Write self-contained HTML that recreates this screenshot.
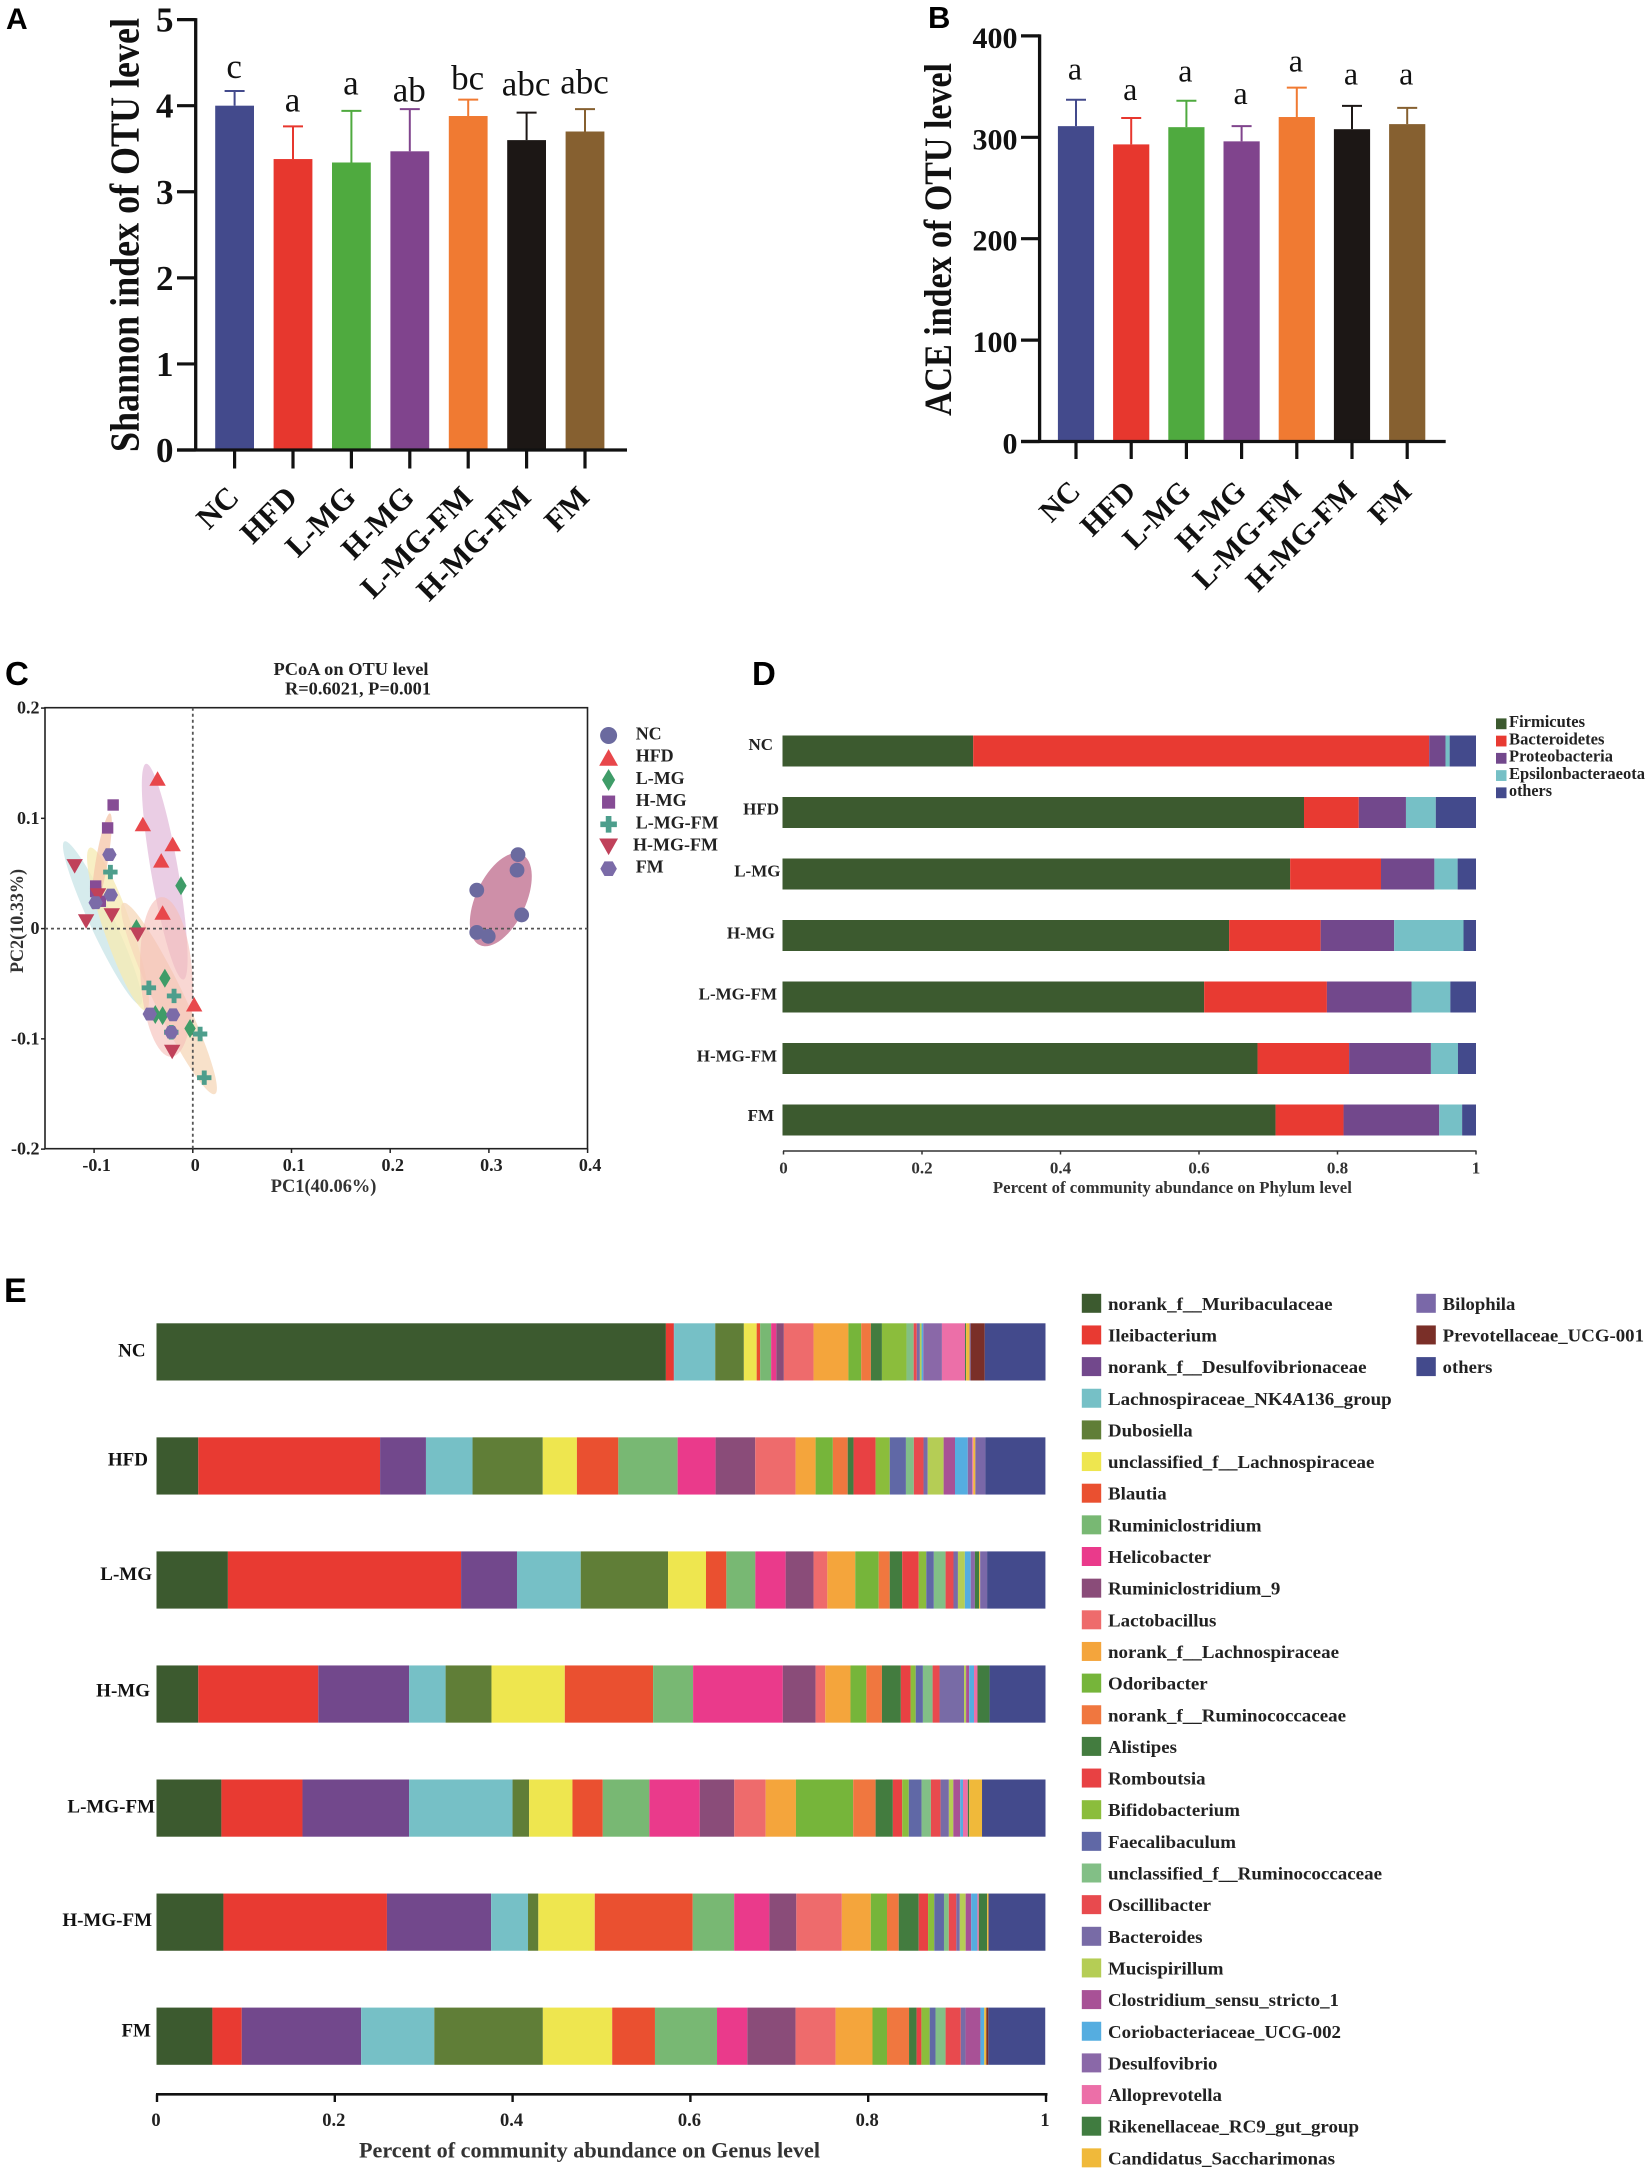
<!DOCTYPE html>
<html lang="en">
<head>
<meta charset="utf-8">
<title>Gut microbiota diversity and community composition figure</title>
<style>
html,body{margin:0;padding:0;background:#fff;}
svg{display:block;font-family:"Liberation Serif",serif;}
.lab{font-family:"Liberation Sans",sans-serif;font-weight:bold;fill:#000;}
</style>
</head>
<body>
<svg id="fig" xmlns="http://www.w3.org/2000/svg" width="1650" height="2172" viewBox="0 0 1650 2172">
<rect width="1650" height="2172" fill="#fff"/>
<text class="lab" x="6" y="29" font-size="30">A</text>
<text class="lab" x="928" y="28" font-size="31">B</text>
<text class="lab" x="5" y="685" font-size="33">C</text>
<text class="lab" x="752" y="685" font-size="33">D</text>
<text class="lab" x="4" y="1302" font-size="34">E</text>
<g id="panelA"></g>
<g id="panelB"></g>
<g id="panelC"></g>
<g id="panelD"></g>
<g id="panelE"></g>
</svg>
<script>
// ---------- shared categories ----------
const groups = ['NC','HFD','L-MG','H-MG','L-MG-FM','H-MG-FM','FM'];
const groupColors = ['#434a8c','#e7372e','#4faa3f','#80448d','#f07a32','#1c1715','#866030'];

// ---------- panel A ----------
const shannonTicks = [0,1,2,3,4,5];
const shannonMeans = [4.00,3.38,3.34,3.47,3.88,3.60,3.70];
const shannonErrTops = [4.17,3.76,3.94,3.96,4.07,3.92,3.96];
const shannonLetters = ['c','a','a','ab','bc','abc','abc'];
const shannonLetterLevels = [4.32,3.93,4.13,4.05,4.19,4.12,4.14];

// ---------- panel B ----------
const aceTicks = [0,100,200,300,400];
const aceMeans = [311,293,310,296,320,308,313];
const aceErrTops = [337,319,336,311,349,331,329];
const aceLetters = ['a','a','a','a','a','a','a'];
const aceLetterLevels = [357,337,355,333,365,352,352];

// ---------- panel C ----------
const pcoaXTicks = [-0.1,0,0.1,0.2,0.3,0.4];
const pcoaYTicks = [0.2,0.1,0,-0.1,-0.2];
const pcoaXLabels = ['-0.1','0','0.1','0.2','0.3','0.4'];
const pcoaYLabels = ['0.2','0.1','0','-0.1','-0.2'];
const pcoaNCx = [0.3295,0.3285,0.2877,0.3332,0.2877,0.2993];
const pcoaNCy = [0.0671,0.0530,0.0349,0.0124,-0.0034,-0.0070];
const pcoaHFDx = [-0.0357,-0.0506,-0.0204,-0.0320,-0.0306,0.0014];
const pcoaHFDy = [0.1359,0.0946,0.0765,0.0617,0.0144,-0.0688];
const pcoaLMGx = [-0.0120,-0.0571,-0.0283,-0.0380,-0.0306,-0.0028];
const pcoaLMGy = [0.0389,0.0000,-0.0450,-0.0779,-0.0789,-0.0906];
const pcoaHMGx = [-0.0807,-0.0863,-0.0984,-0.0984,-0.0937];
const pcoaHMGy = [0.1121,0.0913,0.0386,0.0336,0.0248];
const pcoaLFx = [-0.0835,-0.0445,-0.0190,0.0074,0.0116,-0.0218];
const pcoaLFy = [0.0513,-0.0537,-0.0611,-0.0956,-0.1352,-0.0940];
const pcoaHFx = [-0.1197,-0.1081,-0.0821,-0.0557,-0.0209,-0.0960];
const pcoaHFy = [0.0567,0.0067,0.0121,-0.0054,-0.1117,0.0302];
const pcoaFMx = [-0.0845,-0.0831,-0.0984,-0.0436,-0.0200,-0.0218];
const pcoaFMy = [0.0671,0.0305,0.0235,-0.0775,-0.0782,-0.0940];

// ---------- panel D ----------
const phylumNames = ['Firmicutes','Bacteroidetes','Proteobacteria','Epsilonbacteraeota','others'];
const phylumColors = ['#3c5a2f','#e83a32','#72488c','#76c0c6','#434a8c'];
const phylumNC = [0.275,0.6575,0.0235,0.006,0.038];
const phylumHFD = [0.752,0.079,0.068,0.043,0.058];
const phylumLMG = [0.732,0.131,0.077,0.0335,0.0265];
const phylumHMG = [0.644,0.132,0.106,0.100,0.018];
const phylumLF = [0.608,0.177,0.122,0.056,0.037];
const phylumHF = [0.685,0.132,0.118,0.039,0.026];
const phylumFM = [0.711,0.098,0.138,0.033,0.020];
const phylumRows = [phylumNC,phylumHFD,phylumLMG,phylumHMG,phylumLF,phylumHF,phylumFM];
const abundanceTicks = [0,0.2,0.4,0.6,0.8,1];
const abundanceLabels = ['0','0.2','0.4','0.6','0.8','1'];

// ---------- panel E ----------
const genusNames = ['norank_f__Muribaculaceae','Ileibacterium','norank_f__Desulfovibrionaceae','Lachnospiraceae_NK4A136_group','Dubosiella','unclassified_f__Lachnospiraceae','Blautia','Ruminiclostridium','Helicobacter','Ruminiclostridium_9','Lactobacillus','norank_f__Lachnospiraceae','Odoribacter','norank_f__Ruminococcaceae','Alistipes','Romboutsia','Bifidobacterium','Faecalibaculum','unclassified_f__Ruminococcaceae','Oscillibacter','Bacteroides','Mucispirillum','Clostridium_sensu_stricto_1','Coriobacteriaceae_UCG-002','Desulfovibrio','Alloprevotella','Rikenellaceae_RC9_gut_group','Candidatus_Saccharimonas','Bilophila','Prevotellaceae_UCG-001','others'];
const genusColors = ['#3c5a2f','#e83a32','#72488c','#76c0c6','#607e37','#eee64f','#ea5030','#78b873','#ea3a8b','#8a4c79','#ee6b6c','#f4a53c','#76b53a','#f0773f','#437c3f','#e84143','#8bbd3c','#6068a6','#82bf86','#e84a4e','#786ba6','#b5cd55','#a85196','#55ade0','#8a68a8','#ec6fa8','#407c40','#f0b93a','#7a68a8','#7a2f28','#434a8c'];
const genusNC = [.5730,.0089,.0004,.0462,.0322,.0144,.0039,.0124,.0058,.0085,.0334,.0392,.0144,.0109,.0124,0,.0276,0,.0081,.0035,.0035,.0019,0,.0019,.0210,.0260,.0012,.0039,.0012,.0159,.0683];
const genusHFD = [.0470,.2045,.0516,.0524,.0790,.0384,.0466,.0667,.0427,.0446,.0454,.0225,.0194,.0167,.0066,.0248,.0159,.0182,.0089,.0109,.0047,.0179,.0128,.0144,.0050,.0012,0,.0023,.0113,0,.0675];
const genusLMG = [.0803,.2623,.0629,.0717,.0982,.0427,.0229,.0326,.0341,.0314,.0155,.0314,.0264,.0124,.0140,.0186,.0085,.0085,.0132,.0089,.0050,.0078,0,.0066,.0047,0,.0047,.0012,.0078,0,.0656];
const genusHMG = [.0470,.1350,.1021,.0411,.0516,.0825,.0993,.0450,.1009,.0369,.0109,.0283,.0179,.0175,.0213,.0109,.0058,.0081,.0109,.0078,.0276,.0023,.0035,.0054,0,.0039,.0136,0,0,0,.0629];
const genusLF = [.0730,.0912,.1199,.1164,.0186,.0488,.0341,.0524,.0567,.0388,.0353,.0341,.0644,.0252,.0194,.0105,.0074,.0144,.0105,.0109,.0093,.0050,.0078,.0031,0,.0054,.0016,.0144,0,0,.0714];
const genusHF = [.0753,.1839,.1172,.0415,.0116,.0635,.1102,.0466,.0396,.0303,.0512,.0326,.0182,.0132,.0225,.0105,.0070,.0109,.0054,.0085,.0039,.0066,.0062,.0070,0,.0016,.0093,.0016,0,0,.0640];
const genusFM = [.0629,.0330,.1343,.0823,.1221,.0780,.0481,.0698,.0341,.0543,.0450,.0415,.0163,.0248,.0085,.0054,.0093,.0066,.0113,.0171,.0054,0,.0167,.0043,0,0,0,.0023,0,.0023,.0640];
const genusRows = [genusNC,genusHFD,genusLMG,genusHMG,genusLF,genusHF,genusFM];

// ---------- helpers ----------
const NS = 'http://www.w3.org/2000/svg';
function mk(parent, tag, attrs, text) {
  const el = document.createElementNS(NS, tag);
  for (const k in attrs) el.setAttribute(k, attrs[k]);
  if (text !== undefined) el.textContent = text;
  parent.appendChild(el);
  return el;
}
const BOLD = 'bold';

// ---------- bar panels A / B ----------
function drawBars(root, cfg) {
  const y = v => cfg.y0 + (cfg.yTop - cfg.y0) * v / cfg.max;
  const x = i => cfg.x0 + cfg.step * i;
  cfg.means.forEach((m, i) => {
    const bar = mk(root, 'rect', {x: x(i) - cfg.barW / 2, y: y(m), width: cfg.barW, height: cfg.y0 - y(m), fill: groupColors[i]});
    
    
    const stem = mk(root, 'line', {x1: x(i), x2: x(i), y1: y(m), y2: y(cfg.errs[i]), stroke: groupColors[i], 'stroke-width': 2});
    
    
    const cap = mk(root, 'line', {x1: x(i) - 10, x2: x(i) + 10, y1: y(cfg.errs[i]), y2: y(cfg.errs[i]), stroke: groupColors[i], 'stroke-width': 2});
    
    
    const letter = mk(root, 'text', {x: x(i) + cfg.letterDx, y: y(cfg.letterLevels[i]), 'font-size': cfg.letterSize, 'text-anchor': 'middle', fill: '#111'}, cfg.letters[i]);
    
    
    const tick = mk(root, 'line', {x1: x(i), x2: x(i), y1: cfg.y0, y2: cfg.y0 + cfg.tickLen, stroke: '#111', 'stroke-width': 3.2});
    
    
    const lx = x(i) + cfg.catDx, ly = cfg.catY;
    const cat = mk(root, 'text', {x: lx, y: ly, 'font-size': cfg.catSize, 'font-weight': BOLD, 'text-anchor': 'end', fill: '#111', transform: 'rotate(-45 ' + lx + ' ' + ly + ')'}, groups[i]);
    
    
  });
  const yAxis = mk(root, 'line', {x1: cfg.axisX, x2: cfg.axisX, y1: cfg.yTop - 1.5, y2: cfg.y0 + 1.5, stroke: '#111', 'stroke-width': 3.3});
  
  
  const xAxis = mk(root, 'line', {x1: cfg.tickX, x2: cfg.axisEnd, y1: cfg.y0, y2: cfg.y0, stroke: '#111', 'stroke-width': 3.3});
  
  
  cfg.ticks.forEach(t => {
    const tl = mk(root, 'line', {x1: cfg.tickX, x2: cfg.axisX, y1: y(t), y2: y(t), stroke: '#111', 'stroke-width': 3.2});
    
    
    const lb = mk(root, 'text', {x: cfg.tickX - 3.5, y: y(t) + cfg.tickDy, 'font-size': cfg.tickSize, 'font-weight': BOLD, 'text-anchor': 'end', fill: '#111'}, String(t));
    
    
  });
  const tx = cfg.titleX, ty = cfg.titleY;
  const title = mk(root, 'text', {x: tx, y: ty, 'font-size': cfg.titleSize, 'font-weight': BOLD, 'text-anchor': 'middle', fill: '#111', textLength: cfg.titleLen, lengthAdjust: 'spacingAndGlyphs', transform: 'rotate(-90 ' + tx + ' ' + ty + ')'}, cfg.title);
  
  
}
drawBars(document.getElementById('panelA'), {
  means: shannonMeans, errs: shannonErrTops, letters: shannonLetters, letterLevels: shannonLetterLevels, ticks: shannonTicks,
  max: 5, y0: 450, yTop: 19.6, x0: 234.6, step: 58.4, barW: 38.8, axisX: 195.7, tickX: 177, axisEnd: 627, tickLen: 18.5,
  letterSize: 35, letterDx: -0.5, tickSize: 35, tickDy: 12, catSize: 31, catDx: 6, catY: 499,
  title: 'Shannon index of OTU level', titleX: 138.5, titleY: 235, titleLen: 434, titleSize: 41
});
drawBars(document.getElementById('panelB'), {
  means: aceMeans, errs: aceErrTops, letters: aceLetters, letterLevels: aceLetterLevels, ticks: aceTicks,
  max: 400, y0: 441.5, yTop: 35.9, x0: 1076, step: 55.2, barW: 36.2, axisX: 1039.6, tickX: 1021, axisEnd: 1445.7, tickLen: 17.5,
  letterSize: 32, letterDx: -1, tickSize: 30, tickDy: 12, catSize: 30, catDx: 6, catY: 493,
  title: 'ACE index of OTU level', titleX: 951, titleY: 239.5, titleLen: 353, titleSize: 39
});

// ---------- panel C ----------
(function () {
  const root = document.getElementById('panelC');
  const px = v => 192.8 + 987 * v;
  const py = v => 928.6 - 1102.6 * v;
  const ellipses = [
    {cx: 102.5, cy: 923, a: 90, b: 12, ang: 25, fill: '#cbe6e8'},
    {cx: 118, cy: 929, a: 86, b: 14, ang: 19, fill: '#f6eab4'},
    {cx: 101.7, cy: 861.7, a: 49, b: 6, ang: -9.7, fill: '#f5c8ac'},
    {cx: 164.7, cy: 871.7, a: 109.5, b: 13.5, ang: 9.8, fill: '#e4bfdc'},
    {cx: 169, cy: 998.5, a: 106, b: 15, ang: 25.7, fill: '#f6d9bb'},
    {cx: 166.5, cy: 977, a: 80, b: 26, ang: 3.6, fill: '#f6bfb8'},
    {cx: 500.8, cy: 899.7, a: 50, b: 25, ang: -25, fill: '#c0708f'}
  ];
  ellipses.forEach((e, i) => {
    const el = mk(root, 'ellipse', {cx: e.cx, cy: e.cy, rx: e.b, ry: e.a, fill: e.fill, 'fill-opacity': i === 5 ? 0.62 : 0.78, transform: 'rotate(' + (-e.ang) + ' ' + e.cx + ' ' + e.cy + ')'});
    
    
  });
  const frame = mk(root, 'rect', {x: 45, y: 707.7, width: 542.5, height: 441, fill: 'none', stroke: '#222', 'stroke-width': 1.6});
  
  
  const h0 = mk(root, 'line', {x1: 45, x2: 587.5, y1: py(0), y2: py(0), stroke: '#555', 'stroke-width': 1.8, 'stroke-dasharray': '3 3'});
  
  
  const v0 = mk(root, 'line', {x1: px(0), x2: px(0), y1: 707.7, y2: 1148.7, stroke: '#555', 'stroke-width': 1.8, 'stroke-dasharray': '3 3'});
  
  
  pcoaXTicks.forEach((t, i) => {
    const tk = mk(root, 'line', {x1: px(t), x2: px(t), y1: 1148.7, y2: 1153, stroke: '#222', 'stroke-width': 1.5});
    
    
    const lb = mk(root, 'text', {x: px(t) + 2.5, y: 1171, 'font-size': 18, 'font-weight': BOLD, 'text-anchor': 'middle', fill: '#222'}, pcoaXLabels[i]);
    
    
  });
  pcoaYTicks.forEach((t, i) => {
    const tk = mk(root, 'line', {x1: 41, x2: 45, y1: py(t), y2: py(t), stroke: '#222', 'stroke-width': 1.5});
    
    
    const lb = mk(root, 'text', {x: 39.5, y: py(t) + 5.5, 'font-size': 18, 'font-weight': BOLD, 'text-anchor': 'end', fill: '#222'}, pcoaYLabels[i]);
    
    
  });
  const t1 = mk(root, 'text', {x: 351, y: 675, 'font-size': 18, 'font-weight': BOLD, 'text-anchor': 'middle', fill: '#222', textLength: 155, lengthAdjust: 'spacingAndGlyphs'}, 'PCoA on OTU level');
  
  
  const t2 = mk(root, 'text', {x: 358, y: 694.4, 'font-size': 18, 'font-weight': BOLD, 'text-anchor': 'middle', fill: '#222', textLength: 146, lengthAdjust: 'spacingAndGlyphs'}, 'R=0.6021, P=0.001');
  
  
  const xt = mk(root, 'text', {x: 323.6, y: 1192, 'font-size': 19, 'font-weight': BOLD, 'text-anchor': 'middle', fill: '#333', textLength: 105.6, lengthAdjust: 'spacingAndGlyphs'}, 'PC1(40.06%)');
  
  
  const yt = mk(root, 'text', {x: 23, y: 921, 'font-size': 19, 'font-weight': BOLD, 'text-anchor': 'middle', fill: '#333', textLength: 104, lengthAdjust: 'spacingAndGlyphs', transform: 'rotate(-90 23 921)'}, 'PC2(10.33%)');
  
  

  function pts(list) {
    let out = '';
    for (let i = 0; i < list.length; i += 2) out += list[i] + ',' + list[i + 1] + ' ';
    return out.trim();
  }
  function marker(shape, cx, cy, color, k) {
    let el;
    if (shape === 'circle') el = mk(root, 'circle', {cx: cx, cy: cy, r: 7.4 * k, fill: color});
    else if (shape === 'up') el = mk(root, 'polygon', {points: pts([cx, cy - 7.5 * k, cx + 8.2 * k, cy + 7 * k, cx - 8.2 * k, cy + 7 * k]), fill: color});
    else if (shape === 'down') el = mk(root, 'polygon', {points: pts([cx - 8.2 * k, cy - 7 * k, cx + 8.2 * k, cy - 7 * k, cx, cy + 7.5 * k]), fill: color});
    else if (shape === 'diamond') el = mk(root, 'polygon', {points: pts([cx, cy - 9.5 * k, cx + 5.7 * k, cy, cx, cy + 9.5 * k, cx - 5.7 * k, cy]), fill: color});
    else if (shape === 'square') el = mk(root, 'rect', {x: cx - 5.7 * k, y: cy - 5.7 * k, width: 11.4 * k, height: 11.4 * k, fill: color});
    else if (shape === 'plus') el = mk(root, 'path', {d: 'M' + (cx - 7.2 * k) + ' ' + cy + 'H' + (cx + 7.2 * k) + 'M' + cx + ' ' + (cy - 7.2 * k) + 'V' + (cy + 7.2 * k), stroke: color, 'stroke-width': 4.9 * k, fill: 'none'});
    else el = mk(root, 'polygon', {points: pts([cx - 7.2 * k, cy, cx - 3.6 * k, cy - 6.4 * k, cx + 3.6 * k, cy - 6.4 * k, cx + 7.2 * k, cy, cx + 3.6 * k, cy + 6.4 * k, cx - 3.6 * k, cy + 6.4 * k]), fill: color});
    return el;
  }
  const series = [
    {name: 'NC', xs: pcoaNCx, ys: pcoaNCy, shape: 'circle', color: '#6b6a9f'},
    {name: 'HFD', xs: pcoaHFDx, ys: pcoaHFDy, shape: 'up', color: '#e8474b'},
    {name: 'L-MG', xs: pcoaLMGx, ys: pcoaLMGy, shape: 'diamond', color: '#3f9c68'},
    {name: 'H-MG', xs: pcoaHMGx, ys: pcoaHMGy, shape: 'square', color: '#864c95'},
    {name: 'L-MG-FM', xs: pcoaLFx, ys: pcoaLFy, shape: 'plus', color: '#4d9e8c'},
    {name: 'H-MG-FM', xs: pcoaHFx, ys: pcoaHFy, shape: 'down', color: '#c0415a'},
    {name: 'FM', xs: pcoaFMx, ys: pcoaFMy, shape: 'hex', color: '#7b6ba8'}
  ];
  series.forEach((s, si) => {
    s.xs.forEach((v, i) => {
      const m = marker(s.shape, px(v), py(s.ys[i]), s.color, 1);
      
      
    });
    const ly = 735.5 + 22.2 * si;
    const lm = marker(s.shape, 608.6, ly, s.color, 1.15);
    
    
    const lt = mk(root, 'text', {x: s.name === 'H-MG-FM' ? 633 : 635.7, y: ly + 4, 'font-size': 18, 'font-weight': BOLD, fill: '#222'}, s.name);
    
    
  });
})();

// ---------- panel D ----------
(function () {
  const root = document.getElementById('panelD');
  const px = v => 782.5 + 693.5 * v;
  const rowTop = i => 735.5 + 61.5 * i;
  const legendLens = [76, 95.5, 104, 136, 43];
  const labelEnds = [773, 779, 780.5, 775, 777, 777, 774];
  const labelDy = [14.5, 17.5, 18, 18.3, 18, 18.4, 16.6];
  phylumRows.forEach((row, i) => {
    let acc = 0;
    row.forEach((w, j) => {
      const seg = mk(root, 'rect', {x: px(acc), y: rowTop(i), width: 693.5 * w, height: 31, fill: phylumColors[j]});
      
      
      acc += w;
    });
    const lb = mk(root, 'text', {x: labelEnds[i], y: rowTop(i) + labelDy[i], 'font-size': 17, 'font-weight': BOLD, 'text-anchor': 'end', fill: '#222'}, groups[i]);
    
    
  });
  const ax = mk(root, 'line', {x1: 783, x2: 1476.5, y1: 1151, y2: 1151, stroke: '#333', 'stroke-width': 1.6});
  
  
  abundanceTicks.forEach((t, i) => {
    const x = 783.5 + 692.5 * t;
    const tk = mk(root, 'line', {x1: x, x2: x, y1: 1151, y2: 1154.5, stroke: '#333', 'stroke-width': 1.5});
    
    
    const lb = mk(root, 'text', {x: x, y: 1173.5, 'font-size': 17, 'font-weight': BOLD, 'text-anchor': 'middle', fill: '#333'}, abundanceLabels[i]);
    
    
  });
  const title = mk(root, 'text', {x: 1172.4, y: 1193, 'font-size': 17, 'font-weight': BOLD, 'text-anchor': 'middle', fill: '#333', textLength: 359, lengthAdjust: 'spacingAndGlyphs'}, 'Percent of community abundance on Phylum level');
  
  
  phylumNames.forEach((n, i) => {
    const y = 718.4 + 17.25 * i;
    const sw = mk(root, 'rect', {x: 1496, y: y, width: 10.5, height: 10.8, fill: phylumColors[i]});
    
    
    const tx = mk(root, 'text', {x: 1509, y: y + 8.6, 'font-size': 17, 'font-weight': BOLD, fill: '#222', textLength: legendLens[i], lengthAdjust: 'spacingAndGlyphs'}, n);
    
    
  });
})();

// ---------- panel E ----------
(function () {
  const root = document.getElementById('panelE');
  const px = v => 156.5 + 889 * v;
  const rowTop = i => 1323.3 + 114.05 * i;
  const labelEnds = [145.6, 148, 152, 150, 155, 152, 151];
  const labelDy = [33.4, 28.3, 28.6, 30.8, 32.8, 32.5, 29.1];
  const legendLens = [224.6,109,258.5,283.7,84.7,266.4,58.7,153.5,103,172.3,108.4,231,99.7,238,68.9,97.5,132,128,274,103,94.5,115.5,231,233,109.5,114,251,227,72.6,201.3,49.7];
  genusRows.forEach((row, i) => {
    let acc = 0;
    row.forEach((w, j) => {
      if (w <= 0) return;
      const seg = mk(root, 'rect', {x: px(acc), y: rowTop(i), width: 889 * w, height: 57.2, fill: genusColors[j]});
      
      
      acc += w;
    });
    const lb = mk(root, 'text', {x: labelEnds[i], y: rowTop(i) + labelDy[i], 'font-size': 19, 'font-weight': BOLD, 'text-anchor': 'end', fill: '#111'}, groups[i]);
    
    
  });
  const ax = mk(root, 'line', {x1: 156, x2: 1047.5, y1: 2094.3, y2: 2094.3, stroke: '#111', 'stroke-width': 2.6});
  
  
  abundanceTicks.forEach((t, i) => {
    const x = 157 + 889 * t;
    const tk = mk(root, 'line', {x1: x, x2: x, y1: 2094.3, y2: 2102, stroke: '#111', 'stroke-width': 2.4});
    
    
    const lb = mk(root, 'text', {x: x - 1, y: 2126, 'font-size': 18.5, 'font-weight': BOLD, 'text-anchor': 'middle', fill: '#222'}, abundanceLabels[i]);
    
    
  });
  const title = mk(root, 'text', {x: 589.5, y: 2157.3, 'font-size': 22, 'font-weight': BOLD, 'text-anchor': 'middle', fill: '#333', textLength: 461, lengthAdjust: 'spacingAndGlyphs'}, 'Percent of community abundance on Genus level');
  
  
  genusNames.forEach((n, i) => {
    const col2 = i >= 28;
    const row = col2 ? i - 28 : i;
    const y = 1303.3 + 31.65 * row;
    const sw = mk(root, 'rect', {x: col2 ? 1416.4 : 1081.8, y: y - 9.5, width: 19.4, height: 19, fill: genusColors[i]});
    
    
    const tx = mk(root, 'text', {x: col2 ? 1442.7 : 1108, y: y + 6.5, 'font-size': 18, 'font-weight': BOLD, fill: '#222', textLength: legendLens[i], lengthAdjust: 'spacingAndGlyphs'}, n);
    
    
  });
})();
</script>
</body>
</html>
